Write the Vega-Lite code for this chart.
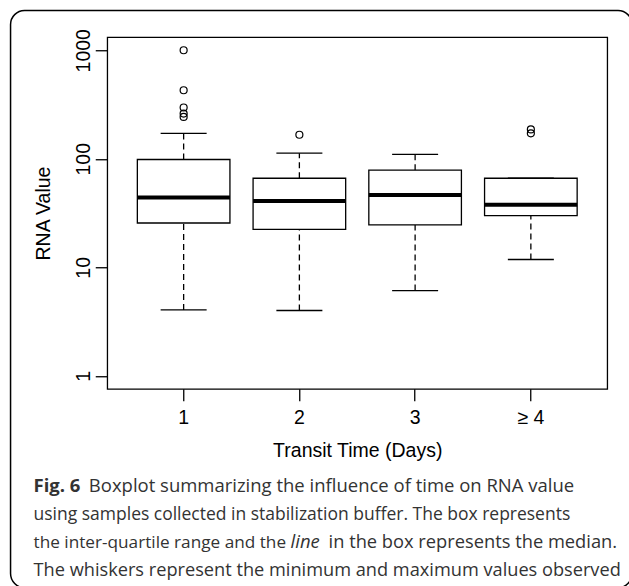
{
  "$schema": "https://vega.github.io/schema/vega-lite/v6.json",
  "background": "white",
  "padding": {"left": 9.25, "top": 9.25, "right": 0, "bottom": 0},
  "width": 500,
  "height": 351.6,
  "view": {"stroke": "black", "strokeWidth": 1.3, "fill": null},
  "datasets": {
    "stats": [
      {"days": "1", "lower": 4.05, "q1": 25.6, "median": 43.9, "q3": 98.5, "upper": 171.5},
      {"days": "2", "lower": 4.0, "q1": 22.4, "median": 40.9, "q3": 66.2, "upper": 112.6},
      {"days": "3", "lower": 6.1, "q1": 24.6, "median": 46.5, "q3": 78.5, "upper": 109.6},
      {"days": "≥ 4", "lower": 11.8, "q1": 29.9, "median": 37.8, "q3": 66.2, "upper": 66.2}
    ],
    "outliers": [
      {"days": "1", "value": 1000},
      {"days": "1", "value": 428},
      {"days": "1", "value": 297},
      {"days": "1", "value": 261},
      {"days": "1", "value": 243},
      {"days": "2", "value": 166.6},
      {"days": "≥ 4", "value": 186.4},
      {"days": "≥ 4", "value": 171.5}
    ],
    "frame": [{"part": "border"}]
  },
  "resolve": {"scale": {"x": "independent", "y": "independent"}, "axis": {"x": "independent", "y": "independent"}},
  "layer": [
    {
      "data": {"name": "frame"},
      "mark": {"type": "rect", "fill": "transparent", "stroke": "black", "strokeWidth": 1.5, "cornerRadius": 14},
      "encoding": {
        "x": {"datum": 0, "type": "quantitative", "scale": {"domain": [0, 1], "range": [-96.7, 524.8]}, "axis": null},
        "x2": {"datum": 1},
        "y": {"datum": 0, "type": "quantitative", "scale": {"domain": [0, 1], "range": [-26.7, 550.3]}, "axis": null},
        "y2": {"datum": 1}
      }
    },
    {
      "encoding": {
        "x": {"datum": 0, "type": "quantitative", "scale": {"domain": [0, 1], "range": [-96.7, 523.3]}, "axis": null},
        "y": {"field": "line", "type": "ordinal", "scale": {"type": "point", "domain": [1, 2, 3, 4], "range": [454.3, 538.3], "padding": 0}, "axis": null},
        "text": {"field": "text"}
      },
      "layer": [
        {
          "data": {"values": [{"line": 1, "text": "Fig. 6"}]},
          "mark": {"type": "text", "align": "left", "baseline": "alphabetic", "font": "Open Sans", "fontSize": 18.5, "fontWeight": "bold", "color": "#333", "dx": 23}
        },
        {
          "data": {"values": [{"line": 1, "text": "Boxplot summarizing the influence of time on RNA value"}]},
          "mark": {"type": "text", "align": "left", "baseline": "alphabetic", "font": "Open Sans", "fontSize": 18.5, "color": "#333", "dx": 78.3}
        },
        {
          "data": {"values": [
            {"line": 2, "text": "using samples collected in stabilization buffer. The box represents"}
          ]},
          "mark": {"type": "text", "align": "left", "baseline": "alphabetic", "font": "Open Sans", "fontSize": 17.5, "color": "#333", "dx": 23}
        },
        {
          "data": {"values": [
            {"line": 3, "text": "the inter-quartile range and the"}
          ]},
          "mark": {"type": "text", "align": "left", "baseline": "alphabetic", "font": "Open Sans", "fontSize": 17.2, "color": "#333", "dx": 23}
        },
        {
          "data": {"values": [
            {"line": 4, "text": "The whiskers represent the minimum and maximum values observed"}
          ]},
          "mark": {"type": "text", "align": "left", "baseline": "alphabetic", "font": "Open Sans", "fontSize": 18.2, "color": "#333", "dx": 23}
        },
        {
          "data": {"values": [{"line": 3, "text": "line"}]},
          "mark": {"type": "text", "align": "left", "baseline": "alphabetic", "font": "Open Sans", "fontSize": 18.5, "fontStyle": "italic", "color": "#333", "dx": 280}
        },
        {
          "data": {"values": [{"line": 3, "text": "in the box represents the median."}]},
          "mark": {"type": "text", "align": "left", "baseline": "alphabetic", "font": "Open Sans", "fontSize": 18.3, "color": "#333", "dx": 318}
        }
      ]
    },
    {
      "encoding": {
        "x": {
          "field": "days", "type": "nominal", "title": "Transit Time (Days)",
          "scale": {"type": "band", "domain": ["1", "2", "3", "≥ 4"], "paddingInner": 0, "paddingOuter": 0.16}
        }
      },
      "layer": [
        {
          "data": {"name": "stats"},
          "mark": {"type": "rule", "color": "black", "strokeWidth": 1.3, "strokeDash": [6, 4]},
          "encoding": {
            "y": {"field": "q3", "type": "quantitative", "title": "RNA Value", "scale": {"type": "log", "domain": [0.7586, 1318.3], "nice": false}, "axis": {"values": [1, 10, 100, 1000], "format": "d"}},
            "y2": {"field": "upper"}
          }
        },
        {
          "data": {"name": "stats"},
          "mark": {"type": "rule", "color": "black", "strokeWidth": 1.3, "strokeDash": [6, 4]},
          "encoding": {
            "y": {"field": "lower", "type": "quantitative", "title": "RNA Value", "axis": {"values": [1, 10, 100, 1000], "format": "d"}},
            "y2": {"field": "q1"}
          }
        },
        {
          "data": {"name": "stats"},
          "mark": {"type": "tick", "color": "black", "opacity": 1, "thickness": 1.3, "size": 46},
          "encoding": {"y": {"field": "upper", "type": "quantitative", "title": "RNA Value", "axis": {"values": [1, 10, 100, 1000], "format": "d"}}}
        },
        {
          "data": {"name": "stats"},
          "mark": {"type": "tick", "color": "black", "opacity": 1, "thickness": 1.3, "size": 46},
          "encoding": {"y": {"field": "lower", "type": "quantitative", "title": "RNA Value", "axis": {"values": [1, 10, 100, 1000], "format": "d"}}}
        },
        {
          "data": {"name": "stats"},
          "mark": {"type": "bar", "fill": "white", "stroke": "black", "strokeWidth": 1.3, "width": {"band": 0.8}},
          "encoding": {
            "y": {"field": "q1", "type": "quantitative", "title": "RNA Value", "axis": {"values": [1, 10, 100, 1000], "format": "d"}},
            "y2": {"field": "q3"}
          }
        },
        {
          "data": {"name": "stats"},
          "mark": {"type": "tick", "color": "black", "opacity": 1, "thickness": 4, "size": 92.6},
          "encoding": {"y": {"field": "median", "type": "quantitative", "title": "RNA Value", "axis": {"values": [1, 10, 100, 1000], "format": "d"}}}
        },
        {
          "data": {"name": "outliers"},
          "mark": {"type": "point", "shape": "circle", "filled": false, "size": 49, "strokeWidth": 1.2, "color": "black", "opacity": 1},
          "encoding": {"y": {"field": "value", "type": "quantitative", "title": "RNA Value", "axis": {"values": [1, 10, 100, 1000], "format": "d"}}}
        }
      ]
    }
  ],
  "config": {
    "axis": {
      "labelFont": "Liberation Sans", "titleFont": "Liberation Sans",
      "labelFontSize": 19.5, "titleFontSize": 19.5,
      "labelColor": "black", "titleColor": "black", "titleFontWeight": "normal",
      "tickColor": "black", "tickWidth": 1.3, "tickSize": 12,
      "domain": false, "grid": false, "labelOverlap": false, "labelFlush": false
    },
    "axisX": {"labelAngle": 0, "labelPadding": 7.6, "titlePadding": 14.5},
    "axisY": {"labelAngle": 270, "labelAlign": "center", "labelBaseline": "bottom", "labelPadding": 1.5, "titlePadding": 20}
  }
}
